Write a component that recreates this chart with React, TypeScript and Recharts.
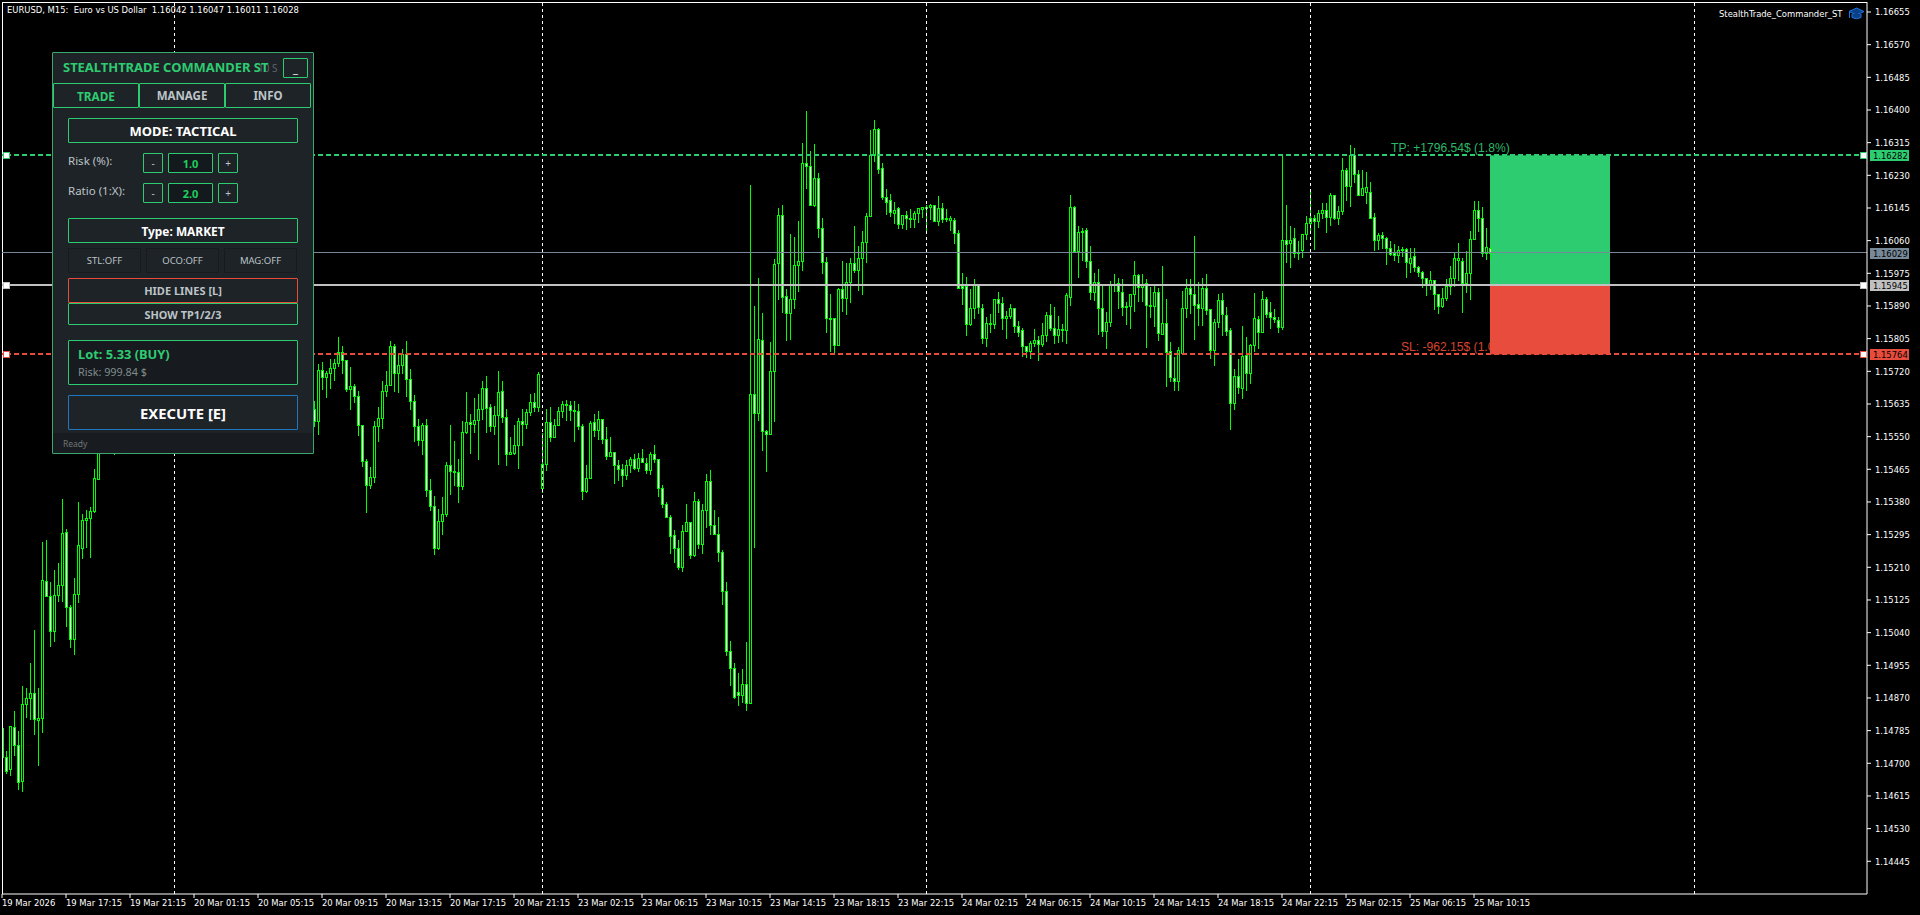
// App.tsx - EURUSD M15 terminal chart with the StealthTrade panel on top
import React from 'react';
import {
  ComposedChart,
  Bar,
  XAxis,
  YAxis,
  ReferenceLine,
  ReferenceArea,
} from 'recharts';

type Row = [number, number, number, number] | null;

// open, high, low, close in points (1/100000). One run per visible stretch of the chart.
const mar19Start: Row[] = [
  [114716,114791,114716,114791],[114717,114733,114673,114679],[114686,114798,114667,114796],[114795,114835,114719,114747],
  [114748,114783,114630,114651],[114654,114900,114625,114855],[114855,114896,114818,114870],[114870,114962,114814,114883],
  [114883,115046,114772,114816],[114812,114895,114693,114818],[114818,115275,114778,115177],[115175,115282,115133,115135],
  [115135,115172,115004,115045],[115045,115202,115014,115138],[115138,115220,115118,115164],[115164,115388,115121,115300],
  [115301,115310,115056,115107],[115107,115113,115001,115024],[115024,115181,114980,115141],[115141,115379,115116,115269],
  [115260,115350,115234,115334],[115334,115358,115259,115339],[115339,115367,115234,115357],[115356,115465,115350,115443],
  [115441,115530,115437,115510],
];

// bars 25-27 and 29-77 sit fully behind the panel, only the wick of bar 28 shows under it
const underPanelStub: Row[] = [null, null, null, [115580,115620,115502,115560]];
const underPanelGap: Row[] = Array(49).fill(null);

const mar20: Row[] = [
  [115622,115644,115577,115590],[115590,115740,115556,115724],[115724,115743,115671,115706],[115706,115721,115650,115716],
  [115716,115753,115675,115729],[115729,115753,115697,115742],[115742,115808,115731,115771],[115771,115785,115712,115750],
  [115750,115750,115668,115675],[115675,115730,115619,115682],[115682,115686,115637,115656],[115656,115670,115553,115580],
  [115581,115581,115472,115487],[115487,115491,115351,115424],[115424,115470,115413,115446],[115446,115590,115429,115578],
  [115578,115626,115535,115599],[115599,115696,115572,115669],[115669,115720,115652,115685],[115685,115799,115681,115786],
  [115786,115792,115668,115716],[115716,115768,115663,115737],[115737,115779,115713,115766],[115766,115800,115655,115701],
  [115701,115725,115619,115643],[115643,115659,115536,115578],[115578,115597,115528,115542],[115542,115586,115502,115581],
  [115581,115597,115395,115411],[115412,115439,115356,115370],[115370,115395,115242,115261],[115261,115361,115255,115331],
  [115330,115393,115295,115349],[115349,115485,115343,115477],[115477,115579,115398,115460],[115460,115538,115421,115458],
  [115458,115491,115376,115421],[115421,115590,115410,115563],[115562,115667,115559,115589],[115589,115610,115507,115583],
  [115583,115651,115560,115593],[115593,115662,115489,115622],[115622,115696,115595,115677],[115677,115707,115559,115625],
  [115627,115634,115560,115577],[115577,115631,115556,115606],[115606,115720,115475,115667],[115669,115696,115586,115602],
  [115602,115621,115472,115505],[115505,115550,115502,115511],[115507,115581,115502,115529],[115529,115599,115467,115591],
  [115591,115622,115527,115583],[115583,115622,115570,115615],[115615,115661,115603,115641],[115641,115663,115613,115627],
  [115627,115718,115613,115714],
];

const mar23Morning: Row[] = [
  [115416,115560,115405,115479],[115479,115621,115459,115589],[115589,115626,115536,115549],[115549,115595,115549,115581],
  [115581,115626,115577,115617],[115616,115642,115597,115635],[115635,115646,115591,115633],[115633,115643,115590,115619],
  [115619,115643,115537,115616],[115616,115634,115567,115577],[115577,115583,115384,115408],[115408,115475,115402,115443],
  [115443,115591,115442,115586],[115588,115609,115550,115568],[115568,115617,115542,115596],[115596,115596,115530,115544],
  [115544,115574,115488,115499],[115499,115548,115498,115511],[115511,115511,115428,115477],[115477,115488,115433,115465],
  [115465,115478,115419,115451],[115451,115490,115439,115477],[115477,115498,115456,115491],[115491,115506,115465,115468],
  [115468,115508,115459,115494],[115494,115517,115480,115484],[115482,115494,115452,115464],[115464,115511,115452,115505],
  [115505,115527,115481,115492],[115492,115492,115392,115417],[115417,115423,115362,115375],[115375,115381,115341,115341],
  [115341,115345,115243,115291],[115295,115307,115221,115260],[115260,115281,115204,115211],[115210,115319,115198,115305],
  [115305,115374,115302,115328],[115328,115329,115232,115242],[115242,115405,115236,115383],[115383,115387,115257,115270],
  [115270,115376,115246,115359],[115359,115454,115313,115435],[115435,115462,115293,115320],[115320,115358,115293,115296],
  [115296,115340,115222,115250],[115250,115254,115111,115148],[115149,115173,114981,114992],[114993,115017,114900,114948],
  [114948,114960,114866,114872],[114886,114934,114848,114878],[114878,114946,114857,114907],[114907,115015,114836,114857],
];

const mar23Afternoon: Row[] = [
  [114857,116206,114857,115660],[115660,115889,115259,115612],[115612,115962,115590,115803],[115802,115872,115513,115565],
  [115565,115567,115458,115556],[115556,115796,115555,115722],[115720,116012,115588,115999],[116002,116146,115907,116127],
  [116127,116153,115872,115914],[115915,115933,115798,115872],[115872,116077,115801,115908],[115908,116070,115883,115996],
  [115996,116112,115928,116006],[116006,116315,115982,116262],[116262,116398,116195,116254],[116253,116293,116149,116152],
  [116152,116312,116147,116223],[116223,116237,116069,116093],[116093,116120,115975,116005],[116005,116018,115821,115859],
  [115859,115922,115772,115857],[115859,115859,115762,115788],[115788,115937,115787,115934],[115934,116007,115874,115910],
  [115910,116001,115866,115953],[115953,116016,115900,116003],[116002,116097,115976,115983],[115983,116045,115927,116015],
  [116015,116084,115918,116057],[116057,116132,116001,116124],[116124,116349,116123,116284],[116284,116375,116267,116351],
  [116351,116354,116235,116247],[116249,116262,116167,116174],[116174,116195,116128,116161],[116166,116182,116123,116135],
  [116131,116160,116102,116140],[116145,116148,116090,116104],[116104,116127,116091,116127],[116127,116136,116086,116119],
  [116119,116143,116094,116117],[116117,116137,116093,116132],[116132,116145,116107,116145],[116143,116148,116120,116148],
];

const mar24Morning: Row[] = [
  [116144,116153,116082,116148],[116148,116156,116115,116153],[116153,116154,116110,116111],[116111,116176,116097,116145],
  [116145,116159,116106,116117],[116119,116143,116109,116117],[116114,116123,116084,116119],[116114,116119,116051,116080],
  [116080,116089,115935,115937],[115942,115977,115894,115936],[115942,115965,115811,115843],[115843,115933,115837,115885],
  [115885,115961,115857,115945],[115945,115945,115869,115888],[115885,115896,115793,115806],[115806,115862,115783,115846],
  [115842,115868,115819,115846],[115842,115908,115829,115908],[115908,115926,115871,115898],[115898,115914,115827,115859],
  [115859,115878,115806,115864],[115863,115894,115856,115885],[115885,115885,115819,115837],[115837,115851,115810,115822],
  [115827,115834,115759,115785],[115785,115785,115754,115772],[115772,115799,115753,115794],[115794,115829,115783,115801],
  [115801,115813,115749,115790],[115791,115846,115783,115815],[115814,115875,115797,115867],[115867,115894,115824,115832],
  [115832,115888,115791,115814],[115814,115865,115794,115830],[115827,115844,115796,115829],[115827,115924,115791,115919],
  [115914,116180,115891,116148],[116148,116151,116030,116032],[116032,116097,115961,116083],[116083,116092,116005,116086],
  [116088,116094,115990,116006],[116007,116047,115907,115927],[115927,115977,115905,115953],[115953,115987,115816,115885],
  [115885,115941,115808,115824],[115824,115875,115779,115849],[115849,115956,115836,115946],[115946,115972,115924,115946],
];

const mar24Evening: Row[] = [
  [115950,115964,115883,115929],[115927,115959,115862,115888],[115888,115901,115842,115890],[115889,115921,115831,115921],
  [115921,116006,115873,115971],[115971,115972,115898,115940],[115940,115974,115901,115945],[115950,115961,115782,115893],
  [115893,115940,115860,115890],[115889,115943,115836,115927],[115927,115938,115800,115820],[115817,115995,115816,115846],
  [115846,115907,115678,115771],[115772,115795,115691,115705],[115702,115756,115667,115695],[115695,115784,115670,115775],
  [115768,115928,115767,115885],[115885,115961,115860,115937],[115937,115959,115868,115921],[115921,116073,115803,115893],
  [115896,115953,115839,115885],[115885,115964,115839,115937],[115937,115974,115868,115880],[115882,115882,115751,115776],
  [115775,115856,115735,115849],[115849,115922,115833,115906],[115906,115925,115813,115869],[115867,115888,115813,115824],
  [115828,115834,115568,115638],[115638,115725,115618,115708],[115708,115751,115660,115679],[115677,115839,115650,115760],
  [115763,115810,115670,115716],[115715,115792,115688,115789],[115788,115925,115771,115859],[115856,115865,115780,115822],
  [115822,115930,115821,115908],[115908,115914,115860,115869],[115875,115901,115831,115862],[115862,115881,115844,115856],
  [115854,115862,115821,115836],[115836,116284,115829,116062],[116062,116154,116003,116052],[116053,116099,115990,116062],
  [116066,116094,116016,116028],[116028,116058,116008,116030],[116035,116078,116016,116078],[116078,116123,116060,116106],
];

const mar25: Row[] = [
  [116106,116190,116083,116120],[116120,116127,116037,116111],[116111,116141,116094,116133],[116132,116159,116118,116140],
  [116140,116157,116078,116122],[116122,116183,116097,116179],[116179,116179,116115,116118],[116119,116151,116102,116138],
  [116137,116276,116128,116244],[116244,116250,116165,116202],[116202,116310,116148,116284],[116284,116300,116210,116234],
  [116234,116243,116179,116180],[116180,116245,116180,116197],[116187,116238,116155,116200],[116187,116213,116119,116120],
  [116122,116132,116032,116061],[116061,116080,116036,116075],[116075,116082,116039,116067],[116067,116070,115996,116041],
  [116041,116058,116019,116026],[116029,116050,116005,116023],[116023,116045,116000,116036],[116038,116044,116018,116036],
  [116038,116041,115964,116005],[116002,116041,115975,116015],[116020,116041,115978,115991],[115992,115993,115964,115978],
  [115978,115980,115937,115963],[115963,115963,115917,115947],[115947,115982,115933,115958],[115958,115958,115880,115921],
  [115921,115921,115869,115890],[115889,115937,115885,115911],[115911,115961,115903,115941],[115941,115993,115917,115963],
  [115963,116030,115938,116015],[116010,116055,115956,116015],[116007,116015,115873,115950],[115950,116034,115924,115976],
  [115976,116084,115904,116064],[116064,116162,116063,116140],[116140,116164,116084,116119],[116119,116148,116018,116029],
  [116029,116093,116009,116043],[116042,116047,116011,116028],
];

const priceTicks = [
  116655,116570,116485,116400,116315,116230,116145,116060,115975,115890,115805,115720,115635,115550,
  115465,115380,115295,115210,115125,115040,114955,114870,114785,114700,114615,114530,114445,
];

const timeLabels = [
  '19 Mar 2026','19 Mar 17:15','19 Mar 21:15','20 Mar 01:15','20 Mar 05:15','20 Mar 09:15','20 Mar 13:15','20 Mar 17:15',
  '20 Mar 21:15','23 Mar 02:15','23 Mar 06:15','23 Mar 10:15','23 Mar 14:15','23 Mar 18:15','23 Mar 22:15','24 Mar 02:15',
  '24 Mar 06:15','24 Mar 10:15','24 Mar 14:15','24 Mar 18:15','24 Mar 22:15','25 Mar 02:15','25 Mar 06:15','25 Mar 10:15',
];
const barsPerLabel = 16;
const timeTicks = timeLabels.map((_, i) => i * barsPerLabel);
const daySeparators = [43, 135, 231, 327, 423];

const BAR_DOMAIN: [number, number] = [0, 466.25];
const PRICE_DOMAIN: [number, number] = [114359.9, 116681];

const TP_PRICE = 116282;
const ENTRY_PRICE = 115945;
const SL_PRICE = 115764;
const BID_PRICE = 116029;
const BOX_FIRST_BAR = 372;
const BOX_LAST_BAR = 402;

const GREEN = '#2ecc71';
const RED = '#e74c3c';
const LINE_GREY = '#c0c0c0';
const BID_GREY = '#778899';
const CANDLE = '#00ff00';
const TERMINAL_FONT = '"DejaVu Sans", sans-serif';
const TERMINAL_SIZE = 9.35;
const PANEL_FONT = '"Noto Sans", sans-serif';

const chartRows: Row[] = [
  ...mar19Start,
  ...underPanelStub,
  ...underPanelGap,
  ...mar20,
  ...mar23Morning,
  ...mar23Afternoon,
  ...mar24Morning,
  ...mar24Evening,
  ...mar25,
];

const chartData = chartRows.map((r, i) =>
  r
    ? { bar: i, open: r[0], close: r[3], high: r[1], low: r[2], range: [r[2], r[1]] }
    : { bar: i, open: null, close: null, high: null, low: null, range: null }
);

const CandleShape = (props: any) => {
  const { x, y, width, height, payload } = props;
  if (!payload || payload.open === null) return null;
  const span = payload.high - payload.low;
  const perPoint = span > 0 ? Math.abs(height) / span : 0;
  const cx = Math.round(x + width / 2);
  const top = Math.round(y);
  const wickH = Math.max(1, Math.round(Math.abs(height)));
  const bodyTop = Math.round(y + (payload.high - Math.max(payload.open, payload.close)) * perPoint);
  const bodyBottom = Math.round(y + (payload.high - Math.min(payload.open, payload.close)) * perPoint);
  const bodyH = Math.max(1, bodyBottom - bodyTop + 1);
  const bearish = payload.close < payload.open;
  return (
    <g shapeRendering="crispEdges">
      <rect x={cx} y={top} width={1} height={wickH} fill={CANDLE} />
      <rect x={cx - 1} y={bodyTop} width={3} height={bodyH} fill={CANDLE} />
      {bodyH > 2 && (
        <rect x={cx} y={bodyTop + 1} width={1} height={bodyH - 2} fill={bearish ? '#ffffff' : '#000000'} />
      )}
    </g>
  );
};

const TimeTick = (props: any) => {
  const { x, y, payload } = props;
  return (
    <text x={x} y={y + 5.5} fill="#ffffff" fontFamily={TERMINAL_FONT} fontSize={TERMINAL_SIZE} style={{ fontStretch: 'condensed' }} textAnchor="start">
      {timeLabels[payload.value / barsPerLabel]}
    </text>
  );
};

const PriceTick = (props: any) => {
  const { x, y, payload } = props;
  return (
    <text x={x + 2} y={y + 3.5} fill="#ffffff" fontFamily={TERMINAL_FONT} fontSize={TERMINAL_SIZE} style={{ fontStretch: 'condensed' }} textAnchor="start">
      {(payload.value / 100000).toFixed(5)}
    </text>
  );
};

// price tag in the scale plus the drag handles at both ends of a level
const levelMarks = (price: number, color: string, handles: boolean) => (props: any) => {
  const { viewBox } = props;
  const y = Math.round(viewBox.y);
  const right = viewBox.x + viewBox.width;
  return (
    <g shapeRendering="crispEdges">
      {handles && (
        <>
          <rect x={3.5} y={y - 3} width={6} height={6} fill="#ffffff" stroke={color} />
          <rect x={right - 6.5} y={y - 3} width={6} height={6} fill="#ffffff" stroke={color} />
        </>
      )}
      <rect x={right + 3} y={y - 5} width={39} height={11} fill={color} />
      <text x={right + 6} y={y + 4} fill="#000000" fontFamily={TERMINAL_FONT} fontSize={TERMINAL_SIZE} style={{ fontStretch: 'condensed' }} shapeRendering="auto">
        {(price / 100000).toFixed(5)}
      </text>
    </g>
  );
};

const ProfitBox = (props: any) => {
  const { x, y, width, height } = props;
  return (
    <g>
      <text x={x - 99} y={y - 3} fill="#2bb868" fontFamily='"Liberation Sans", sans-serif' fontSize={12.1}>
        TP: +1796.54$ (1.8%)
      </text>
      <rect x={x} y={y} width={width} height={height} fill={GREEN} />
    </g>
  );
};

const LossBox = (props: any) => {
  const { x, y, width, height } = props;
  return (
    <g>
      <text x={x - 89} y={y + height - 3} fill="#d9442f" fontFamily='"Liberation Sans", sans-serif' fontSize={12.1}>
        SL: -962.15$ (1.0%)
      </text>
      <rect x={x} y={y} width={width} height={height} fill={RED} />
    </g>
  );
};

type BoxProps = {
  l: number;
  t: number;
  w: number;
  h: number;
  border?: string;
  bg?: string;
  color?: string;
  size?: number;
  bold?: boolean;
  children?: React.ReactNode;
};

const PanelBox = ({ l, t, w, h, border, bg, color = '#bdc3c7', size = 10.5, bold, children }: BoxProps) => (
  <div
    style={{
      position: 'absolute',
      left: l,
      top: t,
      width: w,
      height: h,
      boxSizing: 'border-box',
      border: border ? `1px solid ${border}` : undefined,
      borderRadius: 1,
      background: bg,
      color,
      fontSize: size,
      fontWeight: bold ? 700 : 400,
      display: 'flex',
      alignItems: 'center',
      justifyContent: 'center',
      whiteSpace: 'nowrap',
    }}
  >
    {children}
  </div>
);

const PanelText = ({ l, t, color, size, bold, children }: any) => (
  <div
    style={{
      position: 'absolute',
      left: l,
      top: t,
      color,
      fontSize: size,
      fontWeight: bold ? 700 : 400,
      lineHeight: '14px',
      whiteSpace: 'nowrap',
    }}
  >
    {children}
  </div>
);

const CommanderPanel = () => (
  <div style={{ position: 'absolute', left: 0, top: 0, fontFamily: PANEL_FONT }}>
    <PanelBox l={52} t={52} w={262} h={402} border="#3aa76d" bg="#1e2328" />
    <PanelBox l={53} t={433} w={260} h={20} bg="#181c20" />
    <PanelText l={258} t={61} color="#5f6468" size={10}>10 S</PanelText>
    <PanelText l={63} t={60} color={GREEN} size={12.95} bold>STEALTHTRADE COMMANDER ST</PanelText>
    <PanelBox l={283} t={58} w={25} h={20} border={GREEN} color="#ffffff" size={11}>_</PanelBox>
    <PanelBox l={53} t={83} w={86} h={25} border={GREEN} color={GREEN} size={11.8} bold>TRADE</PanelBox>
    <PanelBox l={139} t={83} w={86} h={25} border={GREEN} size={11.5} bold>MANAGE</PanelBox>
    <PanelBox l={225} t={83} w={86} h={25} border={GREEN} size={11.5} bold>INFO</PanelBox>
    <PanelBox l={68} t={118} w={230} h={25} border={GREEN} color="#ffffff" size={13} bold>MODE: TACTICAL</PanelBox>
    <PanelText l={68} t={154} color="#bdc3c7" size={11.5}>Risk (%):</PanelText>
    <PanelBox l={143} t={153} w={20} h={20} border={GREEN} size={10}>-</PanelBox>
    <PanelBox l={168} t={153} w={45} h={20} border={GREEN} bg="#14191d" color="#1dd05f" size={11} bold>1.0</PanelBox>
    <PanelBox l={218} t={153} w={20} h={20} border={GREEN} size={10}>+</PanelBox>
    <PanelText l={68} t={184} color="#bdc3c7" size={11.5}>Ratio (1:X):</PanelText>
    <PanelBox l={143} t={183} w={20} h={20} border={GREEN} size={10}>-</PanelBox>
    <PanelBox l={168} t={183} w={45} h={20} border={GREEN} bg="#14191d" color="#1dd05f" size={11} bold>2.0</PanelBox>
    <PanelBox l={218} t={183} w={20} h={20} border={GREEN} size={10}>+</PanelBox>
    <PanelBox l={68} t={218} w={230} h={25} border={GREEN} color="#ffffff" size={11.9} bold>Type: MARKET</PanelBox>
    <PanelBox l={68} t={248} w={73} h={25} border="#171b1f" size={9.5}>STL:OFF</PanelBox>
    <PanelBox l={146} t={248} w={73} h={25} border="#171b1f" size={9.5}>OCO:OFF</PanelBox>
    <PanelBox l={224} t={248} w={73} h={25} border="#171b1f" size={9.5}>MAG:OFF</PanelBox>
    <PanelBox l={68} t={278} w={230} h={25} border={RED} size={11} bold>HIDE LINES [L]</PanelBox>
    <PanelBox l={68} t={303} w={230} h={22} border={GREEN} size={10.9} bold>SHOW TP1/2/3</PanelBox>
    <PanelBox l={68} t={340} w={230} h={45} border={GREEN} bg="#171b1f" />
    <PanelText l={78} t={347} color={GREEN} size={12.85} bold>Lot: 5.33 (BUY)</PanelText>
    <PanelText l={78} t={365} color="#7f8c8d" size={10.8}>Risk: 999.84 $</PanelText>
    <PanelBox l={68} t={395} w={230} h={35} border="#2077c0" color="#ffffff" size={14.8} bold>EXECUTE [E]</PanelBox>
    <PanelText l={63} t={437} color="#707578" size={8.5}>Ready</PanelText>
  </div>
);

const Captions = () => (
  <div style={{ position: 'absolute', left: 0, top: 0, fontFamily: TERMINAL_FONT, fontStretch: 'condensed', fontSize: TERMINAL_SIZE, color: '#ffffff' }}>
    <div style={{ position: 'absolute', left: 7, top: 4, whiteSpace: 'pre', lineHeight: '12px' }}>
      {'EURUSD, M15:  Euro vs US Dollar  1.16042 1.16047 1.16011 1.16028'}
    </div>
    <div style={{ position: 'absolute', left: 1719, top: 8, whiteSpace: 'pre', lineHeight: '12px' }}>
      StealthTrade_Commander_ST
    </div>
    <svg style={{ position: 'absolute', left: 1848, top: 7 }} width={17} height={14}>
      <polygon points="8.5,1 16,4.5 8.5,8 1,4.5" fill="#0b3f88" stroke="#1e78e0" />
      <path d="M4 7 V10.5 Q8.5 13 13 10.5 V7" fill="#0b3f88" stroke="#1e78e0" />
      <path d="M1.5 5 V11" stroke="#1e78e0" />
    </svg>
  </div>
);

const App = () => {
  return (
    <div style={{ position: 'absolute', left: 0, top: 0, width: 1920, height: 915, background: '#000000', overflow: 'hidden' }}>
      <ComposedChart
        width={1920}
        height={915}
        data={chartData}
        margin={{ top: 2, right: 0, bottom: 0, left: 2 }}
        barSize={3}
      >
        <XAxis
          dataKey="bar"
          type="number"
          domain={BAR_DOMAIN}
          allowDataOverflow
          ticks={timeTicks}
          interval={0}
          height={21}
          axisLine={{ stroke: '#ffffff' }}
          tickLine={{ stroke: '#ffffff' }}
          tickSize={4}
          tick={<TimeTick />}
        />
        <YAxis
          orientation="right"
          type="number"
          domain={PRICE_DOMAIN}
          allowDataOverflow
          ticks={priceTicks}
          interval={0}
          width={53}
          axisLine={{ stroke: '#ffffff' }}
          tickLine={{ stroke: '#ffffff' }}
          tickSize={4}
          tick={<PriceTick />}
        />
        {daySeparators.map((b) => (
          <ReferenceLine key={b} x={b} stroke="#ffffff" strokeDasharray="3 3" shapeRendering="crispEdges" />
        ))}
        <Bar dataKey="range" shape={<CandleShape />} isAnimationActive={false} />
        <ReferenceArea x1={BOX_FIRST_BAR} x2={BOX_LAST_BAR} y1={ENTRY_PRICE} y2={TP_PRICE} shape={<ProfitBox />} />
        <ReferenceArea x1={BOX_FIRST_BAR} x2={BOX_LAST_BAR} y1={SL_PRICE} y2={ENTRY_PRICE} shape={<LossBox />} />
        <ReferenceLine x={0} stroke="#ffffff" shapeRendering="crispEdges" />
        <ReferenceLine y={PRICE_DOMAIN[1]} stroke="#ffffff" shapeRendering="crispEdges" />
        <ReferenceLine y={BID_PRICE} stroke={BID_GREY} shapeRendering="crispEdges" label={levelMarks(BID_PRICE, BID_GREY, false)} />
        <ReferenceLine y={TP_PRICE} stroke={GREEN} strokeWidth={2} strokeDasharray="5 3" shapeRendering="crispEdges" label={levelMarks(TP_PRICE, GREEN, true)} />
        <ReferenceLine y={ENTRY_PRICE} stroke={LINE_GREY} strokeWidth={2} shapeRendering="crispEdges" label={levelMarks(ENTRY_PRICE, LINE_GREY, true)} />
        <ReferenceLine y={SL_PRICE} stroke={RED} strokeWidth={2} strokeDasharray="5 3" shapeRendering="crispEdges" label={levelMarks(SL_PRICE, RED, true)} />
      </ComposedChart>
      <Captions />
      <CommanderPanel />
    </div>
  );
};

export default App;
